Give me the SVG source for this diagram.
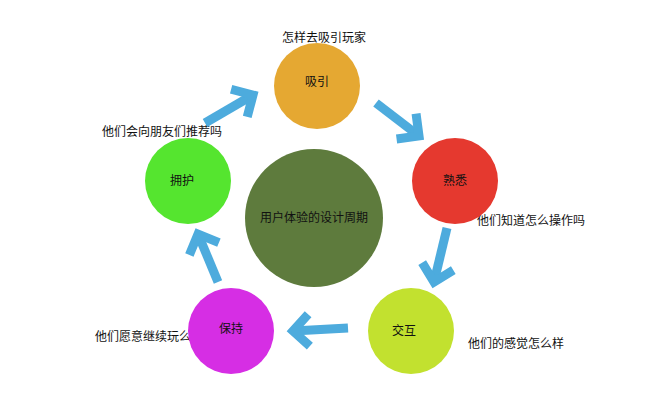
<svg xmlns="http://www.w3.org/2000/svg" width="660" height="400" viewBox="0 0 660 400">
<style>
text{font-family:"Liberation Sans","Noto Sans CJK SC",sans-serif;font-size:12px;fill:#111;text-anchor:middle}
.a{stroke:#4dabdd;stroke-width:9;fill:none}
</style>
<defs>
<marker id="h" markerUnits="userSpaceOnUse" markerWidth="40" markerHeight="40" viewBox="-25 -20 30 40" refX="0" refY="0" orient="auto">
<path d="M-16,-16 L0,0 L-16,16" stroke="#4dabdd" stroke-width="9" fill="none" stroke-linecap="butt"/>
</marker>
</defs>
<rect width="660" height="400" fill="#fff"/>
<text x="324" y="42">怎样去吸引玩家</text>
<text x="162" y="136">他们会向朋友们推荐吗</text>
<text x="531" y="225">他们知道怎么操作吗</text>
<text x="516" y="348">他们的感觉怎么样</text>
<text x="143" y="341">他们愿意继续玩么</text>
<g id="connectors">
<line class="a" x1="376" y1="103" x2="419" y2="136" marker-end="url(#h)"/>
<line class="a" x1="447" y1="228" x2="434" y2="282" marker-end="url(#h)"/>
<line class="a" x1="348" y1="328" x2="293" y2="331" marker-end="url(#h)"/>
<line class="a" x1="218" y1="282" x2="198" y2="234" marker-end="url(#h)"/>
<line class="a" x1="205" y1="123" x2="253" y2="95" marker-end="url(#h)"/>
</g>
<g id="center"><circle cx="314" cy="218" r="69" fill="#5e7b3d"/><text x="314" y="222">用户体验的设计周期</text></g>
<g id="n1"><circle cx="317" cy="86" r="43" fill="#e5a832"/><text x="317" y="86">吸引</text></g>
<g id="n2"><circle cx="455" cy="181" r="43" fill="#e5392f"/><text x="455" y="185">熟悉</text></g>
<g id="n3"><circle cx="411" cy="331" r="43" fill="#c2e12f"/><text x="404" y="335">交互</text></g>
<g id="n4"><circle cx="231" cy="331" r="43" fill="#d62ee4"/><text x="231" y="333">保持</text></g>
<g id="n5"><circle cx="188" cy="181" r="43" fill="#55e52f"/><text x="182" y="185">拥护</text></g>
</svg>
